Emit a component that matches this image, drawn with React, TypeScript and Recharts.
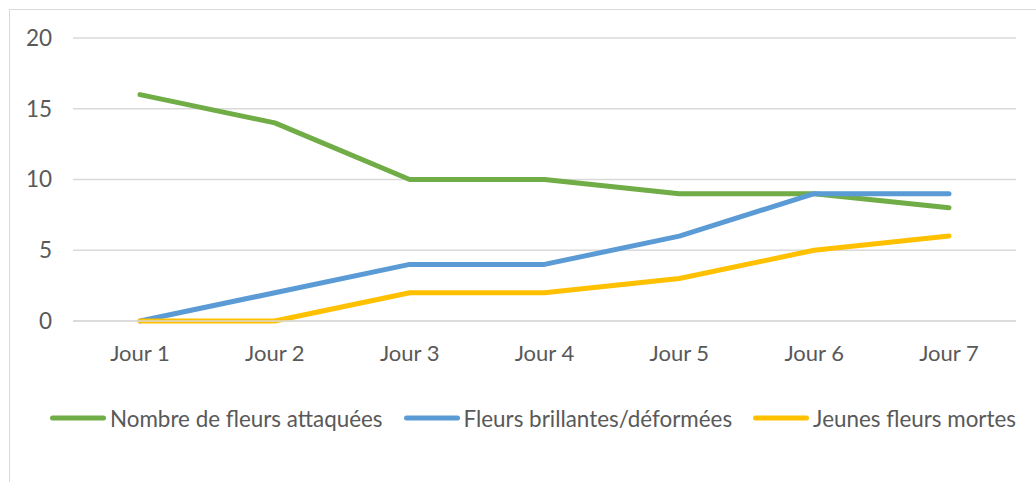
import { LineChart, Line, XAxis, YAxis, CartesianGrid } from "recharts";

const days = ["Jour 1", "Jour 2", "Jour 3", "Jour 4", "Jour 5", "Jour 6", "Jour 7"];
const attacked = [16, 14, 10, 10, 9, 9, 8];
const shiny = [0, 2, 4, 4, 6, 9, 9];
const dead = [0, 0, 2, 2, 3, 5, 6];
const yTicks = [0, 5, 10, 15, 20];

const series = [
  { key: "attacked", name: "Nombre de fleurs attaquées", color: "#70AD47" },
  { key: "shiny", name: "Fleurs brillantes/déformées", color: "#5B9BD5" },
  { key: "dead", name: "Jeunes fleurs mortes", color: "#FFC000" },
];

const data = days.map((day, i) => ({
  day,
  attacked: attacked[i],
  shiny: shiny[i],
  dead: dead[i],
}));

const FONT = "Lato, 'Noto Sans', sans-serif";
const TEXT = "#595959";

function LegendRow() {
  return (
    <div
      style={{
        position: "absolute",
        left: 50,
        top: 403,
        height: 30,
        display: "flex",
        alignItems: "center",
        fontFamily: FONT,
        fontSize: 22.4,
        color: TEXT,
        whiteSpace: "nowrap",
      }}
    >
      {series.map((s, i) => (
        <div
          key={s.key}
          style={{ display: "flex", alignItems: "center", marginRight: i < 2 ? 21 : 0 }}
        >
          <svg width={56} height={10} style={{ marginRight: 4 }}>
            <line x1={2.5} y1={5} x2={53.5} y2={5} stroke={s.color} strokeWidth={5} strokeLinecap="round" />
          </svg>
          <span>{s.name}</span>
        </div>
      ))}
    </div>
  );
}

export default function App() {
  return (
    <div style={{ position: "absolute", left: 0, top: 0, width: 1036, height: 482, overflow: "hidden", background: "#fff" }}>
      <div
        style={{
          position: "absolute",
          left: 9,
          top: 9,
          width: 1040,
          height: 490,
          borderLeft: "1px solid #D9D9D9",
          borderTop: "1px solid #D9D9D9",
        }}
      />
      <div style={{ position: "absolute", left: 0, top: 0 }}>
        <LineChart
          width={1036}
          height={482}
          data={data}
          margin={{ top: 38, right: 20, bottom: 131, left: 0 }}
        >
          <CartesianGrid vertical={false} stroke="#D9D9D9" strokeWidth={1.5} />
          <XAxis
            dataKey="day"
            height={30}
            padding={{ left: 67, right: 67 }}
            axisLine={{ stroke: "#D9D9D9", strokeWidth: 1.5 }}
            tickLine={false}
            tickSize={0}
            tickMargin={24}
            tick={{ fontSize: 22, fill: TEXT, fontFamily: FONT }}
          />
          <YAxis
            width={73}
            domain={[0, 20]}
            ticks={yTicks}
            axisLine={false}
            tickLine={false}
            tickSize={0}
            tickMargin={21}
            tick={{ fontSize: 22.5, fill: TEXT, fontFamily: FONT }}
          />
          {series.map((s) => (
            <Line
              key={s.key}
              type="linear"
              dataKey={s.key}
              name={s.name}
              stroke={s.color}
              strokeWidth={5}
              strokeLinecap="round"
              strokeLinejoin="round"
              dot={false}
              activeDot={false}
              isAnimationActive={false}
            />
          ))}
        </LineChart>
      </div>
      <LegendRow />
    </div>
  );
}
